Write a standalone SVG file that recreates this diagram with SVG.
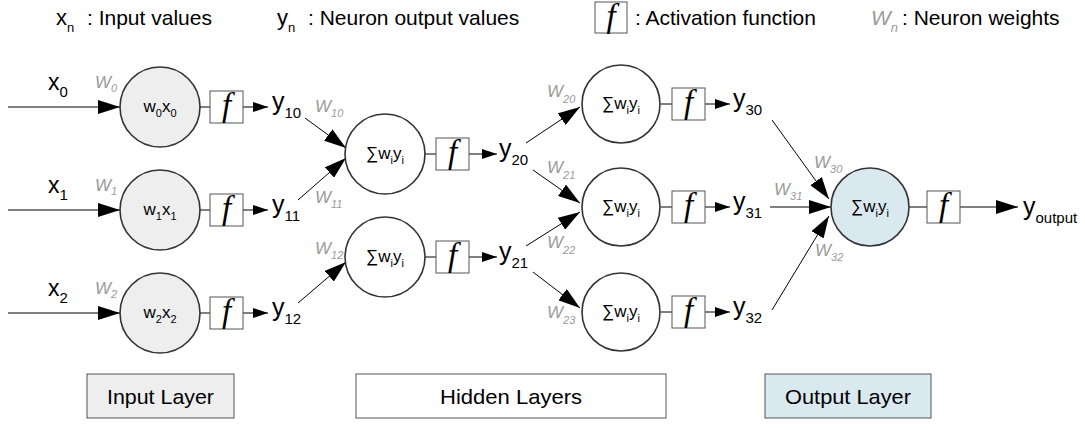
<svg xmlns="http://www.w3.org/2000/svg" width="1085" height="430" viewBox="0 0 1085 430">
<defs>
<style>
.t{font-family:"Liberation Sans",Arial,sans-serif;fill:#000}
.w{font-family:"Liberation Sans",Arial,sans-serif;font-style:italic;fill:#9a9a9a}
.f{font-family:"Liberation Serif","Times New Roman",serif;font-style:italic;font-size:33px;fill:#000}
.fb{fill:#fff;stroke:#555;stroke-width:1}
.n{stroke:#333;stroke-width:1.6}
.c line{stroke:#000;stroke-width:1}
.lb{stroke:#555;stroke-width:1}
</style>
<marker id="big" viewBox="0 0 22 14" refX="22" refY="7" markerWidth="22" markerHeight="14" markerUnits="userSpaceOnUse" orient="auto"><path d="M0,0 L22,7 L0,14 z" fill="#000"/></marker>
<marker id="sm" viewBox="0 0 15 10" refX="15" refY="5" markerWidth="15" markerHeight="10" markerUnits="userSpaceOnUse" orient="auto"><path d="M0,0 L15,5 L0,10 z" fill="#000"/></marker>
</defs>
<rect width="1085" height="430" fill="#fff"/>

<g id="legend">
<text class="t" x="56" y="25" font-size="22">x<tspan font-size="13" dy="7">n</tspan></text>
<text class="t" x="87" y="25" font-size="21">: Input values</text>
<text class="t" x="277" y="25" font-size="22">y<tspan font-size="13" dy="7">n</tspan></text>
<text class="t" x="308" y="25" font-size="21">: Neuron output values</text>
<rect class="fb" x="595" y="2" width="32" height="31"/>
<text class="f" x="611" y="27" font-size="29" text-anchor="middle">f</text>
<text class="t" x="635" y="25" font-size="21">: Activation function</text>
<text class="w" x="871" y="25" font-size="21">W<tspan font-size="13" dy="7">n</tspan></text>
<text class="t" x="902" y="25" font-size="21">: Neuron weights</text>
</g>

<g id="connectors" class="c">
<line x1="8" y1="107" x2="120" y2="107" marker-end="url(#big)"/>
<line x1="8" y1="210" x2="120" y2="210" marker-end="url(#big)"/>
<line x1="8" y1="313" x2="120" y2="313" marker-end="url(#big)"/>
<line x1="200" y1="107" x2="210" y2="107"/>
<line x1="200" y1="210" x2="210" y2="210"/>
<line x1="200" y1="313" x2="210" y2="313"/>
<line x1="243" y1="107" x2="268" y2="107" marker-end="url(#sm)"/>
<line x1="243" y1="210" x2="268" y2="210" marker-end="url(#sm)"/>
<line x1="243" y1="313" x2="268" y2="313" marker-end="url(#sm)"/>
<line x1="305" y1="118" x2="346" y2="148" marker-end="url(#big)"/>
<line x1="298" y1="200" x2="346" y2="158" marker-end="url(#big)"/>
<line x1="298" y1="303" x2="346" y2="262" marker-end="url(#big)"/>
<line x1="425" y1="154" x2="436" y2="154"/>
<line x1="425" y1="257" x2="436" y2="257"/>
<line x1="469" y1="154" x2="497" y2="154" marker-end="url(#sm)"/>
<line x1="469" y1="257" x2="497" y2="257" marker-end="url(#sm)"/>
<line x1="526" y1="143" x2="580" y2="107" marker-end="url(#big)"/>
<line x1="533" y1="170" x2="580" y2="203" marker-end="url(#big)"/>
<line x1="526" y1="246" x2="580" y2="212" marker-end="url(#big)"/>
<line x1="533" y1="272" x2="580" y2="308" marker-end="url(#big)"/>
<line x1="661" y1="104" x2="672" y2="104"/>
<line x1="661" y1="207" x2="672" y2="207"/>
<line x1="661" y1="312" x2="672" y2="312"/>
<line x1="705" y1="104" x2="730" y2="104" marker-end="url(#sm)"/>
<line x1="705" y1="207" x2="730" y2="207" marker-end="url(#sm)"/>
<line x1="705" y1="312" x2="730" y2="312" marker-end="url(#sm)"/>
<line x1="772" y1="120" x2="829" y2="199" marker-end="url(#big)"/>
<line x1="770" y1="207" x2="831" y2="207" marker-end="url(#big)"/>
<line x1="772" y1="310" x2="829" y2="216" marker-end="url(#big)"/>
<line x1="909" y1="207" x2="927" y2="207"/>
<line x1="960" y1="207" x2="1018" y2="207" marker-end="url(#big)"/>
</g>

<g id="inputs">
<text class="t" x="48" y="90" font-size="23">x<tspan font-size="15" dy="7">0</tspan></text>
<text class="t" x="48" y="193" font-size="23">x<tspan font-size="15" dy="7">1</tspan></text>
<text class="t" x="48" y="296" font-size="23">x<tspan font-size="15" dy="7">2</tspan></text>
<text class="w" x="95" y="88" font-size="17">W<tspan font-size="11" dy="4">0</tspan></text>
<text class="w" x="95" y="191" font-size="17">W<tspan font-size="11" dy="4">1</tspan></text>
<text class="w" x="95" y="294" font-size="17">W<tspan font-size="11" dy="4">2</tspan></text>
</g>

<g id="n00">
<circle class="n" cx="160" cy="107" r="40" fill="#eeeeee"/>
<text class="t" x="160" y="112" font-size="17" text-anchor="middle">w<tspan font-size="11" dy="5">0</tspan><tspan dy="-5">x</tspan><tspan font-size="11" dy="5">0</tspan></text>
<rect class="fb" x="210" y="91" width="33" height="32"/>
<text class="f" x="226.5" y="116" text-anchor="middle">f</text>
<text class="t" x="272" y="110" font-size="25">y<tspan font-size="15" dy="8">10</tspan></text>
</g>
<g id="n01">
<circle class="n" cx="160" cy="210" r="40" fill="#eeeeee"/>
<text class="t" x="160" y="215" font-size="17" text-anchor="middle">w<tspan font-size="11" dy="5">1</tspan><tspan dy="-5">x</tspan><tspan font-size="11" dy="5">1</tspan></text>
<rect class="fb" x="210" y="194" width="33" height="32"/>
<text class="f" x="226.5" y="219" text-anchor="middle">f</text>
<text class="t" x="272" y="213" font-size="25">y<tspan font-size="15" dy="8">11</tspan></text>
</g>
<g id="n02">
<circle class="n" cx="160" cy="313" r="40" fill="#eeeeee"/>
<text class="t" x="160" y="318" font-size="17" text-anchor="middle">w<tspan font-size="11" dy="5">2</tspan><tspan dy="-5">x</tspan><tspan font-size="11" dy="5">2</tspan></text>
<rect class="fb" x="210" y="297" width="33" height="32"/>
<text class="f" x="226.5" y="322" text-anchor="middle">f</text>
<text class="t" x="272" y="316" font-size="25">y<tspan font-size="15" dy="8">12</tspan></text>
</g>

<g id="weights1">
<text class="w" x="315" y="112" font-size="17">W<tspan font-size="11" dy="5">10</tspan></text>
<text class="w" x="315" y="203" font-size="17">W<tspan font-size="11" dy="5">11</tspan></text>
<text class="w" x="315" y="254" font-size="17">W<tspan font-size="11" dy="5">12</tspan></text>
</g>

<g id="n10">
<circle class="n" cx="385" cy="154" r="40" fill="#fff"/>
<text class="t" x="385" y="159" font-size="17" text-anchor="middle">∑w<tspan font-size="11" dy="5">i</tspan><tspan dy="-5">y</tspan><tspan font-size="11" dy="5">i</tspan></text>
<rect class="fb" x="436" y="138" width="33" height="32"/>
<text class="f" x="452.5" y="163" text-anchor="middle">f</text>
<text class="t" x="499" y="157" font-size="25">y<tspan font-size="15" dy="8">20</tspan></text>
</g>
<g id="n11">
<circle class="n" cx="385" cy="257" r="40" fill="#fff"/>
<text class="t" x="385" y="262" font-size="17" text-anchor="middle">∑w<tspan font-size="11" dy="5">i</tspan><tspan dy="-5">y</tspan><tspan font-size="11" dy="5">i</tspan></text>
<rect class="fb" x="436" y="241" width="33" height="32"/>
<text class="f" x="452.5" y="266" text-anchor="middle">f</text>
<text class="t" x="499" y="260" font-size="25">y<tspan font-size="15" dy="8">21</tspan></text>
</g>

<g id="weights2">
<text class="w" x="547" y="97" font-size="17">W<tspan font-size="11" dy="6">20</tspan></text>
<text class="w" x="547" y="173" font-size="17">W<tspan font-size="11" dy="6">21</tspan></text>
<text class="w" x="547" y="248" font-size="17">W<tspan font-size="11" dy="6">22</tspan></text>
<text class="w" x="547" y="318" font-size="17">W<tspan font-size="11" dy="6">23</tspan></text>
</g>

<g id="n20">
<circle class="n" cx="621" cy="104" r="39" fill="#fff"/>
<text class="t" x="621" y="109" font-size="17" text-anchor="middle">∑w<tspan font-size="11" dy="5">i</tspan><tspan dy="-5">y</tspan><tspan font-size="11" dy="5">i</tspan></text>
<rect class="fb" x="672" y="88" width="33" height="32"/>
<text class="f" x="688.5" y="113" text-anchor="middle">f</text>
<text class="t" x="733" y="107" font-size="25">y<tspan font-size="15" dy="8">30</tspan></text>
</g>
<g id="n21">
<circle class="n" cx="621" cy="207" r="39" fill="#fff"/>
<text class="t" x="621" y="212" font-size="17" text-anchor="middle">∑w<tspan font-size="11" dy="5">i</tspan><tspan dy="-5">y</tspan><tspan font-size="11" dy="5">i</tspan></text>
<rect class="fb" x="672" y="191" width="33" height="32"/>
<text class="f" x="688.5" y="216" text-anchor="middle">f</text>
<text class="t" x="733" y="210" font-size="25">y<tspan font-size="15" dy="8">31</tspan></text>
</g>
<g id="n22">
<circle class="n" cx="621" cy="312" r="39" fill="#fff"/>
<text class="t" x="621" y="317" font-size="17" text-anchor="middle">∑w<tspan font-size="11" dy="5">i</tspan><tspan dy="-5">y</tspan><tspan font-size="11" dy="5">i</tspan></text>
<rect class="fb" x="672" y="296" width="33" height="32"/>
<text class="f" x="688.5" y="321" text-anchor="middle">f</text>
<text class="t" x="733" y="315" font-size="25">y<tspan font-size="15" dy="8">32</tspan></text>
</g>

<g id="weights3">
<text class="w" x="814" y="168" font-size="17">W<tspan font-size="11" dy="5">30</tspan></text>
<text class="w" x="774" y="195" font-size="17">W<tspan font-size="11" dy="5">31</tspan></text>
<text class="w" x="815" y="256" font-size="17">W<tspan font-size="11" dy="5">32</tspan></text>
</g>

<g id="out">
<circle class="n" cx="870" cy="207" r="39" fill="#dae8f0"/>
<text class="t" x="870" y="212" font-size="17" text-anchor="middle">∑w<tspan font-size="11" dy="5">i</tspan><tspan dy="-5">y</tspan><tspan font-size="11" dy="5">i</tspan></text>
<rect class="fb" x="927" y="191" width="33" height="32"/>
<text class="f" x="943.5" y="216" text-anchor="middle">f</text>
<text class="t" x="1023" y="215" font-size="25">y<tspan font-size="15" dy="8">output</tspan></text>
</g>

<g id="layer-input">
<rect class="lb" x="87" y="374" width="147" height="44" fill="#eeeeee"/>
<text class="t" x="160.5" y="404" font-size="21" text-anchor="middle" textLength="107" lengthAdjust="spacingAndGlyphs">Input Layer</text>
</g>
<g id="layer-hidden">
<rect class="lb" x="356" y="374" width="310" height="44" fill="#fff"/>
<text class="t" x="511" y="404" font-size="21" text-anchor="middle" textLength="142" lengthAdjust="spacingAndGlyphs">Hidden Layers</text>
</g>
<g id="layer-output">
<rect class="lb" x="765" y="374" width="166" height="44" fill="#dae8f0"/>
<text class="t" x="848" y="404" font-size="21" text-anchor="middle" textLength="126" lengthAdjust="spacingAndGlyphs">Output Layer</text>
</g>
</svg>
